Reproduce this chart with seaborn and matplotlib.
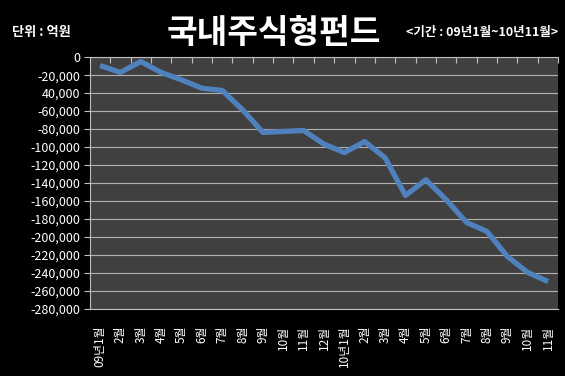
import matplotlib
matplotlib.use("Agg")
import matplotlib.pyplot as plt
import seaborn as sns
import numpy as np
import pandas as pd

months = ["09년1월", "2월", "3월", "4월", "5월", "6월", "7월", "8월", "9월", "10월", "11월", "12월",
          "10년1월", "2월", "3월", "4월", "5월", "6월", "7월", "8월", "9월", "10월", "11월"]
values = [-9300, -17000, -4900, -17000, -25200, -34500, -37000, -58500, -83700, -82600, -81500,
          -96700, -106000, -93800, -112000, -153700, -136300, -158500, -183700, -193700,
          -221500, -239300, -249300]
y_ticks = list(range(0, -280001, -20000))
y_tick_labels = ["0", "-20,000", "40,000", "-60,000", "-80,000", "-100,000", "-120,000",
                 "-140,000", "-160,000", "-180,000", "-200,000", "-220,000", "-240,000",
                 "-260,000", "-280,000"]

sns.set_theme(style="dark")
plt.rcParams['font.family'] = ['Noto Sans CJK KR', 'DejaVu Sans']
plt.rcParams['axes.unicode_minus'] = False

df = pd.DataFrame({"idx": np.arange(len(months)), "value": values})

fig = plt.figure(figsize=(5.65, 3.76), dpi=100, facecolor="black")
ax = fig.add_axes([0.159, 0.178, 0.829, 0.670])
ax.set_facecolor("#404040")

sns.lineplot(data=df, x="idx", y="value", ax=ax, color="#4F81BD", linewidth=3.8,
             solid_capstyle="butt")

ax.set_xlim(-0.5, len(months) - 0.5)
ax.set_ylim(-280000, 0)
ax.set_yticks(y_ticks)
ax.set_yticklabels(y_tick_labels, color="white", fontsize=9)
ax.yaxis.grid(True, color="#b0b0b0", linewidth=0.8)
ax.xaxis.grid(False)

ax.set_xticks(np.arange(len(months)))
ax.set_xticklabels(months, rotation=90, color="white", fontsize=8.5, va="top", ha="center")
ax.set_xticks(np.arange(len(months) + 1) - 0.5, minor=True)
ax.tick_params(axis="x", which="major", length=0, pad=12)
ax.tick_params(axis="x", which="minor", top=True, bottom=False, direction="in",
               length=4, color="#c0c0c0", width=0.8)
ax.tick_params(axis="y", which="major", left=True, length=4, color="#c0c0c0", width=0.8, pad=3)
ax.set_xlabel("")
ax.set_ylabel("")

ax.spines["right"].set_visible(False)
for s in ["top", "left", "bottom"]:
    ax.spines[s].set_color("#c0c0c0")
    ax.spines[s].set_linewidth(0.8)

fig.text(0.485, 0.911, "국내주식형펀드", color="white", fontsize=24, fontweight="bold",
         ha="center", va="center")
fig.text(0.022, 0.914, "단위 : 억원", color="white", fontsize=9.5, fontweight="bold",
         ha="left", va="center")
fig.text(0.988, 0.914, "<기간 : 09년1월~10년11월>", color="white", fontsize=9,
         fontweight="bold", ha="right", va="center")

fig.savefig("out.png", dpi=100, facecolor="black")
